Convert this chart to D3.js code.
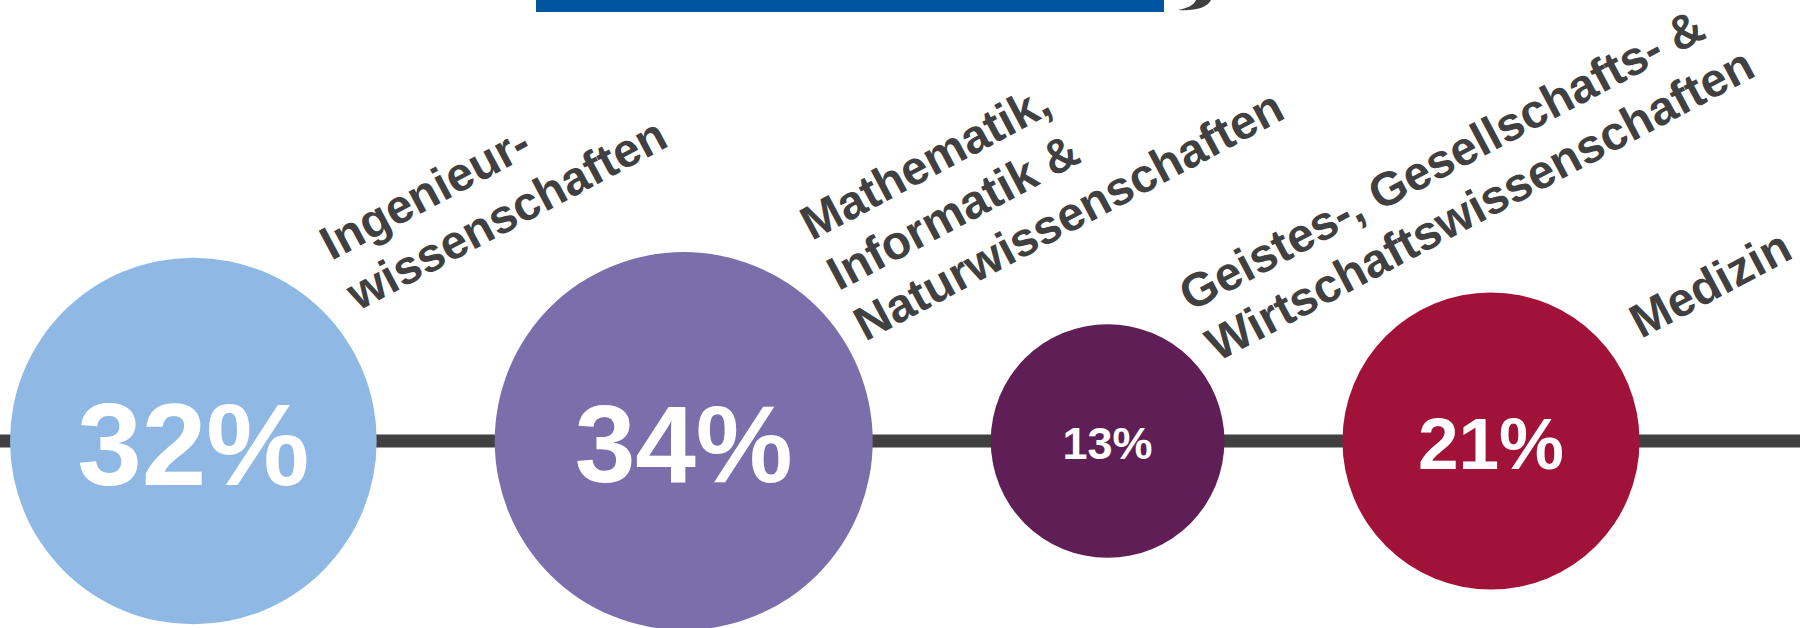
<!DOCTYPE html>
<html>
<head>
<meta charset="utf-8">
<script src="https://cdnjs.cloudflare.com/ajax/libs/d3/7.8.5/d3.min.js"></script>
<style>
    body { margin: 0; background: #fff; }
    svg { display: block; font-family: "Liberation Sans", Arial, sans-serif; }
</style>
</head>
<body>
<svg width="1800" height="628"></svg>
<script>
// data
let categories = [
    ["Ingenieur-", "wissenschaften"],
    ["Mathematik,", "Informatik &", "Naturwissenschaften"],
    ["Geistes-, Gesellschafts- &", "Wirtschaftswissenschaften"],
    ["Medizin"]
];
let shares = [32, 34, 13, 21];

// styling
let colors = ["#8fb9e4", "#7a6eab", "#5f1f56", "#a01237"];
let valueFont = [116, 109, 45, 73];
// first-line start of each rotated label, relative to the circle centre
let labelOffset = [[138, -180], [128, -200], [83, -129], [150, -102]];

let svg = d3.select("svg");
let width = +svg.attr("width"),
    height = +svg.attr("height");

let cy = 441,
    gap = 118,
    left = 10,
    angle = -28,
    lineHeight = 57;

let r = d3.scaleSqrt()
    .domain([0, 34])
    .range([0, 189]);

// circles sit side by side along the line, equal gaps between edges
let cx = [];
let edge = left;
shares.forEach(d => {
    cx.push(edge + r(d));
    edge += 2 * r(d) + gap;
});

// top banner piece (cut off at the top of the picture)
svg.append("rect")
    .attr("x", 536)
    .attr("y", 0)
    .attr("width", 628)
    .attr("height", 12)
    .attr("fill", "#0054a0");

svg.append("path")
    .attr("d", "M1196,0 L1211,0 C1207,8 1195,11 1178,10 C1188,8 1194,5 1196,0 Z")
    .attr("fill", "#404040");

// horizontal line
svg.append("line")
    .attr("x1", 0)
    .attr("x2", width)
    .attr("y1", cy)
    .attr("y2", cy)
    .attr("stroke", "#404040")
    .attr("stroke-width", 13);

let g = svg.selectAll(".bubble")
    .data(shares)
    .enter()
    .append("g")
    .classed("bubble", true);

g.append("circle")
    .attr("cx", (d, i) => cx[i])
    .attr("cy", cy)
    .attr("r", d => r(d))
    .attr("fill", (d, i) => colors[i]);

g.append("text")
    .attr("x", (d, i) => cx[i])
    .attr("y", (d, i) => cy + 0.358 * valueFont[i] + 2)
    .attr("text-anchor", "middle")
    .attr("font-size", (d, i) => valueFont[i])
    .attr("font-weight", "bold")
    .attr("fill", "#fff")
    .text(d => d + "%");

let labels = svg.selectAll(".label")
    .data(categories)
    .enter()
    .append("text")
    .classed("label", true)
    .attr("transform", (d, i) => "translate(" + (cx[i] + labelOffset[i][0]) + "," + (cy + labelOffset[i][1]) + ") rotate(" + angle + ")")
    .attr("font-size", 47.5)
    .attr("font-weight", "bold")
    .attr("fill", "#404040");

labels.selectAll("tspan")
    .data(d => d)
    .enter()
    .append("tspan")
    .attr("x", 0)
    .attr("dy", (d, i) => i === 0 ? 0 : lineHeight)
    .text(d => d);
</script>
</body>
</html>
